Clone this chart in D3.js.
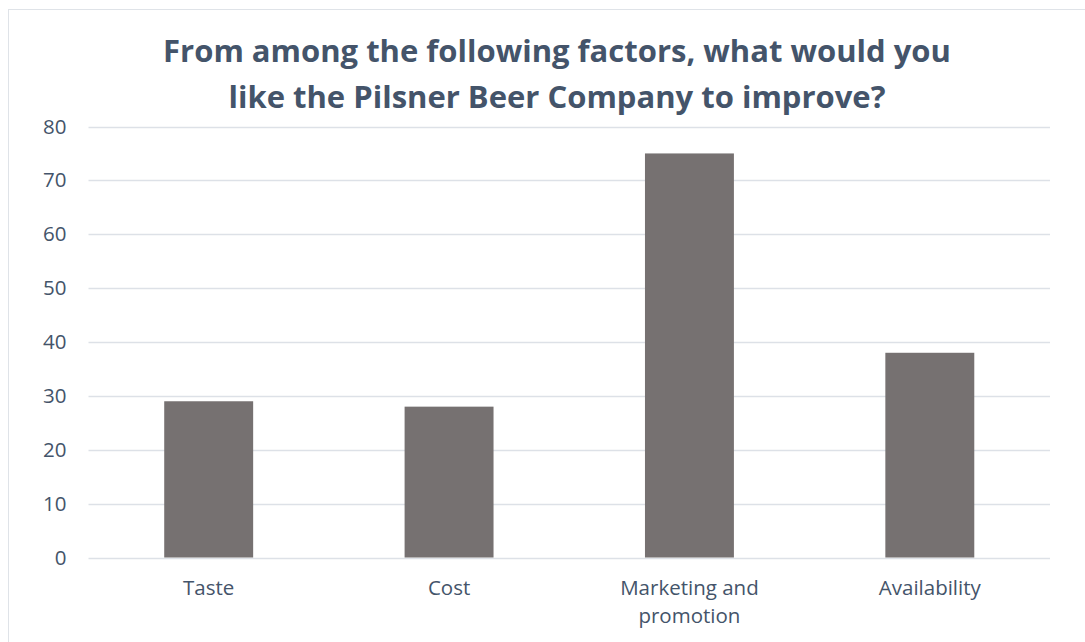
<!DOCTYPE html>
<html>
<head>
<meta charset="utf-8">
<script src="https://cdn.jsdelivr.net/npm/d3@7"></script>
<style>
  body { margin: 0; background: #fff; }
  svg { display: block; font-family: "Open Sans", sans-serif; }
</style>
</head>
<body>
<svg id="chart" width="1085" height="642"></svg>
<script>
// data
const categories = ["Taste", "Cost", "Marketing and promotion", "Availability"];
const values = [29, 28, 75, 38];
const yTicks = [0, 10, 20, 30, 40, 50, 60, 70, 80];
const titleLines = ["From among the following factors, what would you", "like the Pilsner Beer Company to improve?"];

const svg = d3.select("#chart");
const textColor = "#44546a";

// chart frame
svg.append("rect")
    .attr("x", 8.5).attr("y", 9.5)
    .attr("width", 1100).attr("height", 660)
    .attr("fill", "#fff")
    .attr("stroke", "#dfe3e8");

const margin = {left: 88.5, right: 1050, top: 126.5, bottom: 557.5};

const x = d3.scaleBand()
    .domain(categories)
    .range([margin.left, margin.right])
    .paddingInner(0.63)
    .paddingOuter(0.315);

const y = d3.scaleLinear()
    .domain([0, 80])
    .range([margin.bottom, margin.top]);

// gridlines
svg.append("g")
    .selectAll("line")
    .data(yTicks)
    .enter()
    .append("line")
    .attr("x1", margin.left)
    .attr("x2", margin.right)
    .attr("y1", d => Math.round(y(d)) + 0.5)
    .attr("y2", d => Math.round(y(d)) + 0.5)
    .attr("stroke", "#dde1e7")
    .attr("stroke-width", 1.5);

// y axis labels
const yAxis = svg.append("g")
    .attr("transform", `translate(${margin.left},0)`)
    .call(d3.axisLeft(y).tickValues(yTicks).tickSize(0).tickPadding(22));
yAxis.select(".domain").remove();
yAxis.selectAll("text")
    .attr("fill", textColor)
    .style("font-size", "20.5px")
    .style("font-family", "'Open Sans', sans-serif");

// bars
svg.append("g")
    .selectAll("rect")
    .data(values)
    .enter()
    .append("rect")
    .attr("x", (d, i) => x(categories[i]))
    .attr("y", d => y(d))
    .attr("width", x.bandwidth())
    .attr("height", d => y(0) - y(d))
    .attr("fill", "#767171");

// category labels, wrapped like the original
const catLines = {
    "Taste": ["Taste"],
    "Cost": ["Cost"],
    "Marketing and promotion": ["Marketing and", "promotion"],
    "Availability": ["Availability"]
};
svg.append("g")
    .selectAll("text")
    .data(categories)
    .enter()
    .append("text")
    .attr("x", d => x(d) + x.bandwidth() / 2)
    .attr("y", 595)
    .attr("text-anchor", "middle")
    .attr("fill", textColor)
    .style("font-size", "20.5px")
    .selectAll("tspan")
    .data(d => catLines[d])
    .enter()
    .append("tspan")
    .attr("x", function() { return this.parentNode.getAttribute("x"); })
    .attr("dy", (d, i) => i === 0 ? 0 : 28)
    .text(d => d);

// title
svg.append("text")
    .attr("x", 557)
    .attr("y", 62)
    .attr("text-anchor", "middle")
    .attr("fill", textColor)
    .style("font-size", "31px")
    .style("font-weight", "bold")
    .selectAll("tspan")
    .data(titleLines)
    .enter()
    .append("tspan")
    .attr("x", 557)
    .attr("dy", (d, i) => i === 0 ? 0 : 46)
    .text(d => d);
</script>
</body>
</html>
